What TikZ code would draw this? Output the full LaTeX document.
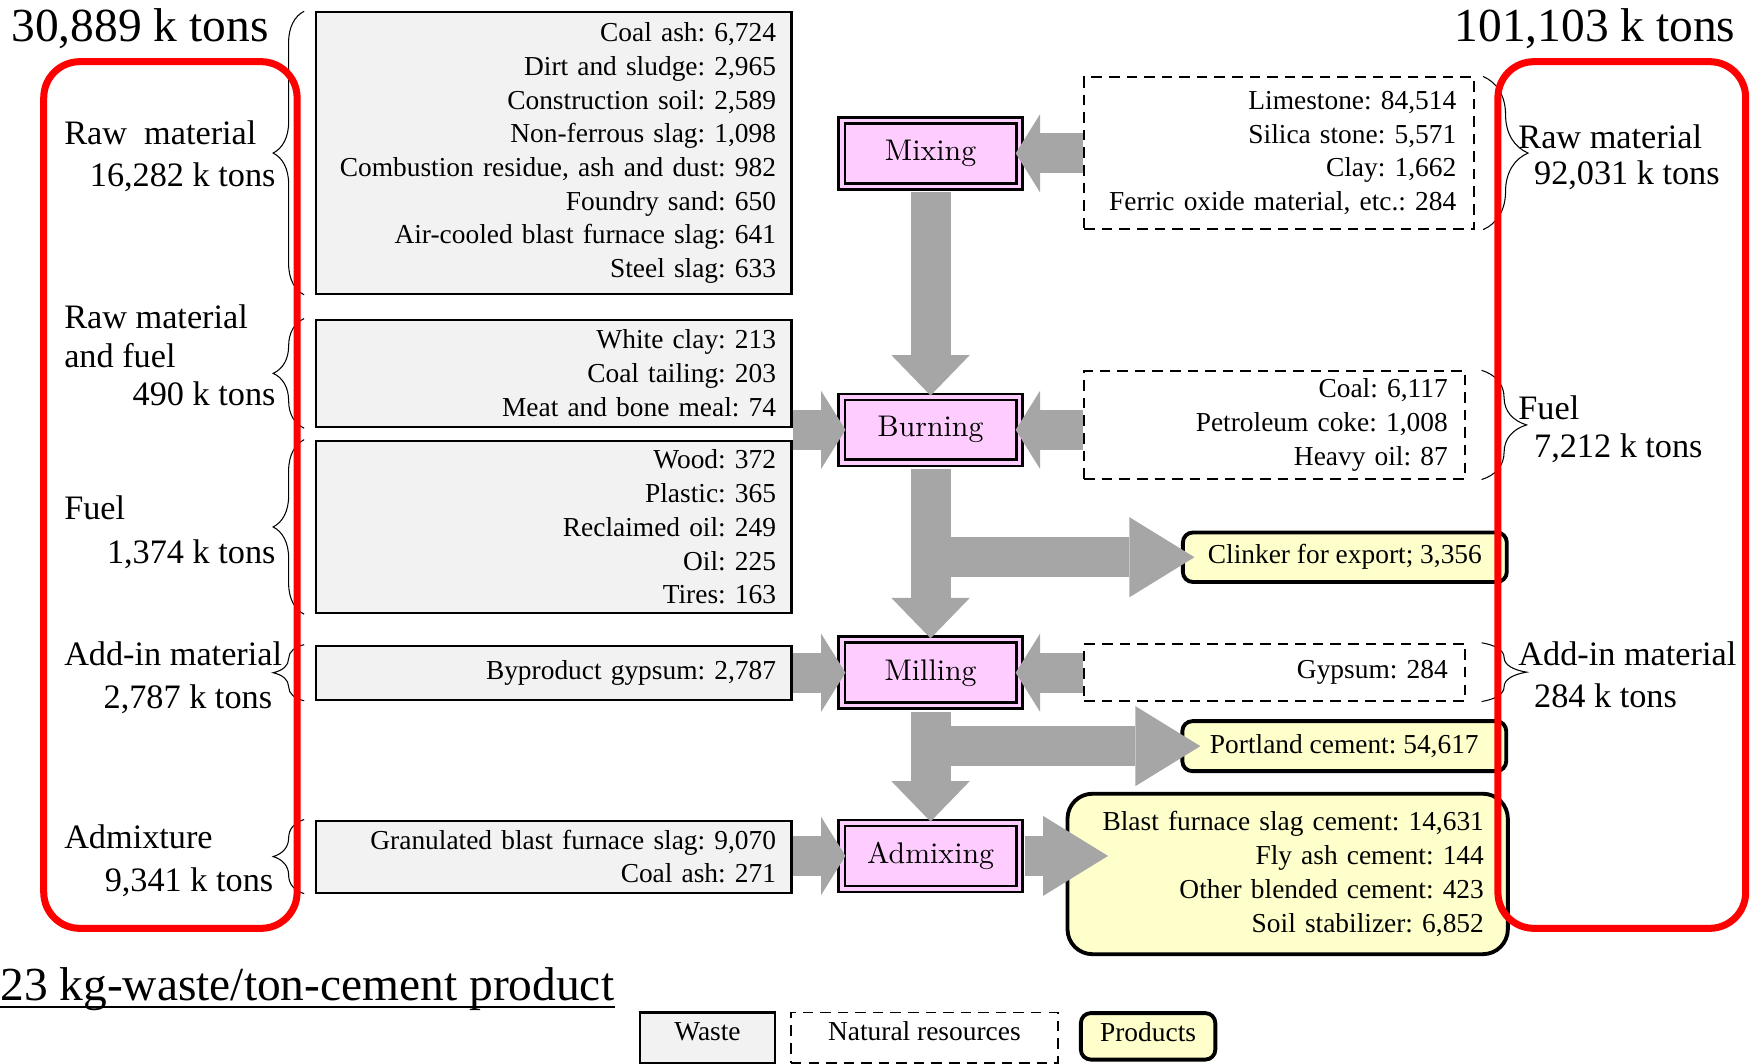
\documentclass[tikz,border=0pt]{standalone}
\usepackage{fontspec}
\usetikzlibrary{arrows.meta,decorations.pathreplacing}
\newfontfamily\tnr{Liberation Serif}
\newfontfamily\lmten{lmroman10-regular.otf}
\definecolor{wastefill}{HTML}{F2F2F2}
\definecolor{procfill}{HTML}{FFCCFF}
\definecolor{prodfill}{HTML}{FFFFCC}
\definecolor{flowgray}{HTML}{A6A6A6}
\frenchspacing
\begin{document}
\begin{tikzpicture}[x=0.022425cm, y=-0.022425cm, every node/.style={font=\tnr\fontsize{15.6}{19.2}\selectfont},
        waste/.style={draw, line width=1.2pt, fill=wastefill},
        natural/.style={draw, line width=1pt, dash pattern=on 6pt off 4pt},
        product/.style={draw, line width=2.2pt, fill=prodfill, rounded corners=0.2cm},
        items/.style={align=right, text width=#1, inner ysep=2pt},
        process/.style={draw, fill=procfill, double=procfill, double distance=0.067cm, line width=0.054cm, minimum width=3.55cm, minimum height=1.32cm, font=\lmten\fontsize{17}{20}\selectfont},
        side/.style={font=\tnr\fontsize{19.5}{22.3}\selectfont, inner sep=0pt},
        total/.style={font=\tnr\fontsize{27}{32}\selectfont, inner sep=0pt},
        legendbox/.style={inner ysep=0pt, text height=0.56cm, text depth=0.45cm, anchor=base},
        feed/.style={draw=flowgray, line width=0.8cm, shorten >=-0.1cm, -{Triangle[length=0.49cm, width=1.57cm, line width=0pt]}},
        flowdown/.style={draw=flowgray, line width=0.8cm, shorten <=0.09cm, -{Triangle[length=0.81cm, width=1.57cm, line width=0pt]}},
        yield/.style={draw=flowgray, line width=0.8cm, shorten <=0.09cm, -{Triangle[length=1.3cm, width=1.6cm, line width=0pt]}},
        lbrc/.style={decorate, decoration={brace, amplitude=0.62cm}, line width=0.6pt},
        rbrc/.style={decorate, decoration={brace, amplitude=0.9cm}, line width=0.6pt},
        redframe/.style={draw=red, line width=4pt, rounded corners=0.72cm}]
        \useasboundingbox (0,0) rectangle (1568,949);

        \node[waste, items=8.89cm, inner xsep=0.31cm, minimum height=5.63cm] (w1) at (494,136.5) {Coal ash: 6,724\\Dirt and sludge: 2,965\\Construction soil: 2,589\\Non-ferrous slag: 1,098\\Combustion residue, ash and dust: 982\\Foundry sand: 650\\Air-cooled blast furnace slag: 641\\Steel slag: 633};
        \node[waste, items=8.89cm, inner xsep=0.31cm, minimum height=2.15cm] (w2) at (494,333) {White clay: 213\\Coal tailing: 203\\Meat and bone meal: 74};
        \node[waste, items=8.89cm, inner xsep=0.31cm, minimum height=3.45cm] (w3) at (494,470) {Wood: 372\\Plastic: 365\\Reclaimed oil: 249\\Oil: 225\\Tires: 163};
        \node[waste, items=8.89cm, inner xsep=0.31cm, minimum height=1.08cm] (w4) at (494,600) {Byproduct gypsum: 2,787};
        \node[waste, items=8.89cm, inner xsep=0.31cm, minimum height=1.44cm] (w5) at (494,764) {Granulated blast furnace slag: 9,070\\Coal ash: 271};

        \node[natural, items=7.08cm, inner xsep=0.36cm, minimum height=3.03cm] (n1) at (1141,136.5) {Limestone: 84,514\\Silica stone: 5,571\\Clay: 1,662\\Ferric oxide material, etc.: 284};
        \node[natural, items=6.92cm, inner xsep=0.35cm, minimum height=2.15cm] (n2) at (1137,379) {Coal: 6,117\\Petroleum coke: 1,008\\Heavy oil: 87};
        \node[natural, items=6.92cm, inner xsep=0.35cm, minimum height=1.14cm] (n3) at (1137,599.5) {Gypsum: 284};

        \node[process] (mix) at (830,136.7) {Mixing};
        \node[process] (burn) at (830,383.4) {Burning};
        \node[process] (mill) at (830,600) {Milling};
        \node[process] (admix) at (830,763.4) {Admixing};

        \node[product, minimum width=6.48cm, minimum height=0.99cm] (p1) at (1199.5,497) {Clinker for export; 3,356};
        \node[product, minimum width=6.48cm, minimum height=1cm] (p2) at (1199,665.5) {Portland cement: 54,617};
        \node[product, rounded corners=0.5cm, items=7.85cm, inner xsep=0.48cm, minimum height=3.21cm] (p3) at (1148.5,779.5) {Blast furnace slag cement: 14,631\\Fly ash cement: 144\\Other blended cement: 423\\Soil stabilizer: 6,852};

        \node[side, anchor=west] (lraw) at (57,118) {Raw\ \ material};
        \node[side, anchor=east] (lrawt) at (246,158) {16,282 k tons};
        \node[side, anchor=west, align=left] (lmix) at (57,300) {Raw material\\and fuel};
        \node[side, anchor=east] (lmixt) at (246,351) {490 k tons};
        \node[side, anchor=west] (lfuel) at (57,453) {Fuel};
        \node[side, anchor=east] (lfuelt) at (246,494) {1,374 k tons};
        \node[side, anchor=west] (ladd) at (57,583) {Add-in material};
        \node[side, anchor=east] (laddt) at (243,624) {2,787 k tons};
        \node[side, anchor=west] (ladm) at (57,746) {Admixture};
        \node[side, anchor=east] (ladmt) at (244,787) {9,341 k tons};
        \node[side, anchor=west] (rraw) at (1354,122) {Raw material};
        \node[side, anchor=west] (rrawt) at (1368,156) {92,031 k tons};
        \node[side, anchor=west] (rfuel) at (1354,364) {Fuel};
        \node[side, anchor=west] (rfuelt) at (1368,400) {7,212 k tons};
        \node[side, anchor=west] (radd) at (1354,583) {Add-in material};
        \node[side, anchor=west] (raddt) at (1368,621) {284 k tons};

        \node[total, anchor=base west] (wtot) at (10,37) {30,889 k tons};
        \node[total, anchor=base east] (ntot) at (1548,37) {101,103 k tons};
        \node[total, anchor=base west] (rate) at (0,892) {23 kg-waste/ton-cement product};
        \draw[line width=1.3pt] ([yshift=-3.8pt]rate.base west) -- ([yshift=-3.8pt]rate.base east);

        \node[waste, legendbox, minimum width=2.69cm] (lw) at (631,928) {Waste};
        \node[natural, legendbox, minimum width=5.34cm] (ln) at (824.5,928) {Natural resources};
        \node[product, legendbox, minimum width=2.69cm, text height=0.57cm, text depth=0.36cm] (lp) at (1024,929) {Products};

        \draw[feed] (mix -| n1.west) -- (mix);
        \draw[feed] (burn -| w2.east) -- (burn);
        \draw[feed] (burn -| n2.west) -- (burn);
        \draw[feed] (mill -| w4.east) -- (mill);
        \draw[feed] (mill -| n3.west) -- (mill);
        \draw[feed] (admix -| w5.east) -- (admix);
        \draw[flowdown] (mix) -- (burn);
        \draw[flowdown] (burn) -- (mill);
        \draw[flowdown] (mill) -- (admix);
        \draw[yield, shorten >=-0.27cm] (burn |- p1) -- (p1);
        \draw[yield, shorten >=-0.4cm] (mill |- p2) -- (p2);
        \draw[yield, shorten >=-0.85cm] (admix) -- (admix -| p3.west);

        \draw[lbrc] ([xshift=-0.22cm]w1.south west) -- ([xshift=-0.22cm]w1.north west);
        \draw[lbrc] ([xshift=-0.22cm]w2.south west) -- ([xshift=-0.22cm]w2.north west);
        \draw[lbrc] ([xshift=-0.22cm]w3.south west) -- ([xshift=-0.22cm]w3.north west);
        \draw[lbrc] ([xshift=-0.22cm]w4.south west) -- ([xshift=-0.22cm]w4.north west);
        \draw[lbrc] ([xshift=-0.22cm]w5.south west) -- ([xshift=-0.22cm]w5.north west);
        \draw[rbrc] ([xshift=0.16cm]n1.north east) -- ([xshift=0.16cm]n1.south east);
        \draw[rbrc] ([xshift=0.31cm]n2.north east) -- ([xshift=0.31cm]n2.south east);
        \draw[rbrc] ([xshift=0.31cm]n3.north east) -- ([xshift=0.31cm]n3.south east);

        \draw[redframe] (39,55) rectangle (265,828);
        \draw[redframe] (1336,55) rectangle (1557,828);
      \end{tikzpicture}
\end{document}
